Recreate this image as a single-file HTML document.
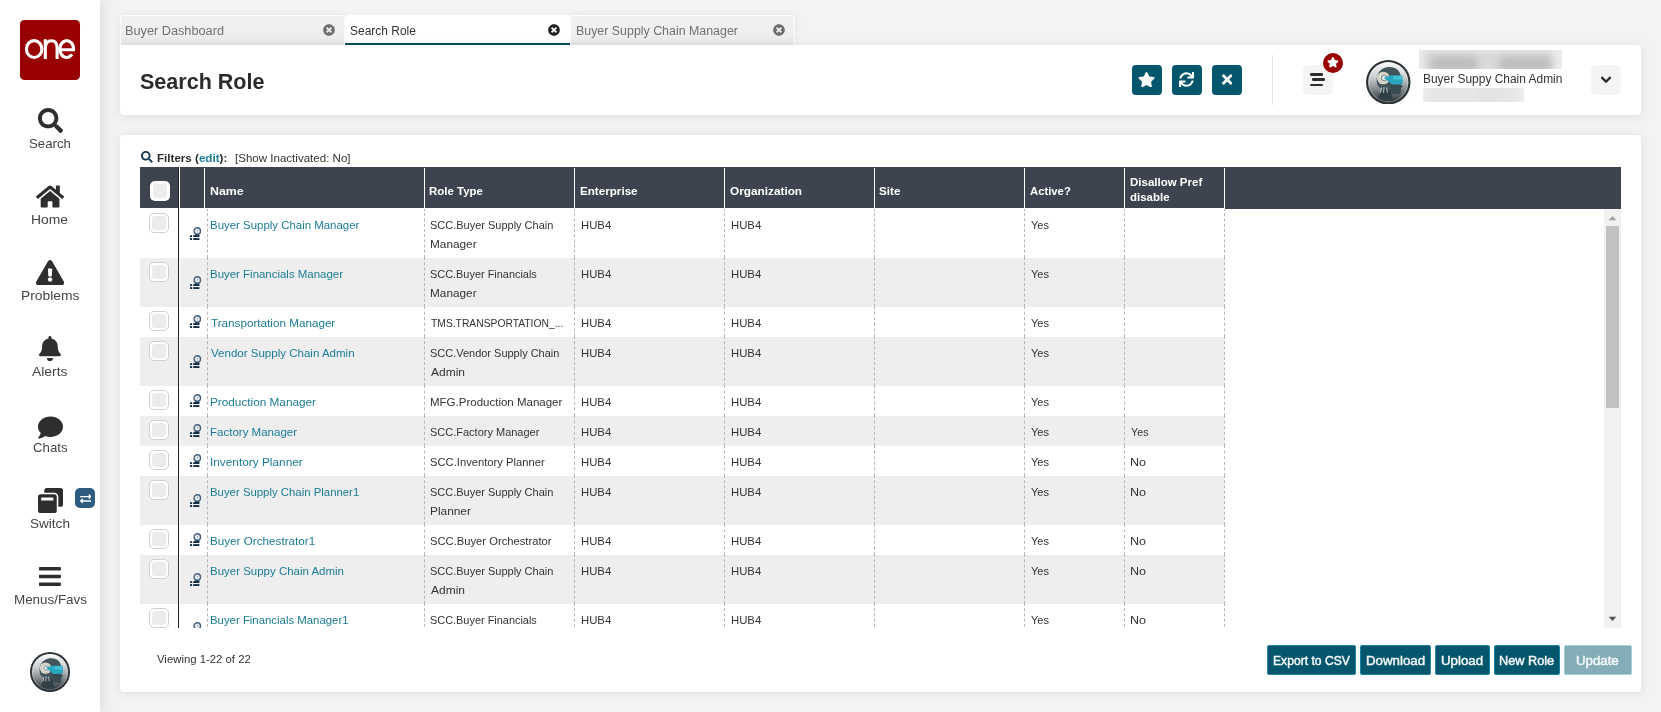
<!DOCTYPE html>
<html><head><meta charset="utf-8"><title>Search Role</title>
<style>
*{box-sizing:border-box;margin:0;padding:0}
html,body{width:1661px;height:712px;overflow:hidden}
body{background:#f4f3f3;font-family:"Liberation Sans",sans-serif;color:#333;position:relative}
.abs{position:absolute}
.t{position:absolute;white-space:nowrap;line-height:1;transform-origin:0 0}
.side{position:absolute;left:0;top:0;width:100px;height:712px;background:#fff;box-shadow:2px 0 14px rgba(120,100,100,0.20)}
.sl{font-size:13px;color:#454545}
.tab{position:absolute;top:15px;height:30px;background:linear-gradient(#f2f1f1 0%,#f0efef 60%,#e9e7e7 100%);border:1px solid #fdfdfd;border-bottom:none;border-radius:4px 4px 0 0;box-shadow:0 0 7px rgba(100,80,80,0.12)}
.tab.act{background:#fff;border:none;border-bottom:2px solid #064a5f;height:30px;box-shadow:none}
.tt{font-size:12px;color:#707070}
.card{position:absolute;background:#fff;border-radius:4px;box-shadow:0 1px 10px rgba(110,90,90,0.15)}
.ibtn{position:absolute;width:30px;height:30px;border-radius:4px;background:#03566c}
.gbtn{position:absolute;width:30px;height:30px;border-radius:5px;background:#f4f4f4}
.hd{position:absolute;top:167px;height:41px;background:#3d444f}
.ht{font-size:11px;font-weight:bold;color:#fff}
.row{position:absolute;left:140px;width:1084px}
.row.alt{background:#eeeeee}
.c{font-size:11px;color:#333}
.lk{font-size:11px;color:#1a7b96}
.dash{position:absolute;top:209px;height:419px;width:0;border-left:1px dashed #bdbdbd}
.cb{position:absolute;width:20px;height:20px;border:1px solid #cfcfcf;border-radius:5px;background:#fff}
.cb:after{content:"";position:absolute;left:2px;top:2px;right:2px;bottom:2px;border-radius:3px;background:#ececec}
.btn{position:absolute;top:645px;height:30px;border-radius:2px;background:#03566c;border:1px solid #0d6f88}
.bt{font-size:13px;font-weight:normal;color:#f5f9fa;-webkit-text-stroke:0.45px #f5f9fa}
</style></head><body>

<div class="side"></div>
<div class="abs" style="left:20px;top:20px;width:60px;height:60px;border-radius:4.500px;background:#990000"></div>
<svg class="abs" style="left:20px;top:20px" width="60" height="60" viewBox="20 20 60 60"><g fill="none" stroke="#fff" stroke-width="3.100"><ellipse cx="34.150" cy="49.050" rx="7.750" ry="8.400"/><path d="M45.300 58.900V39.300M45.300 48.500C45.300 43.200 48 40.700 51.400 40.700C55 40.700 57.100 43.200 57.100 48V58.900"/><path d="M72 54.450A6.900 8.400 0 1 1 73.580 49.700H60.400"/></g></svg>
<svg style="position:absolute;left:37.9px;top:108.2px;" width="25.000" height="25" viewBox="0 0 512 512"><path fill="#2e2e2e" d="M505 442.7L405.3 343c-4.5-4.5-10.6-7-17-7H372c27.6-35.3 44-79.7 44-128C416 93.1 322.9 0 208 0S0 93.1 0 208s93.1 208 208 208c48.3 0 92.7-16.4 128-44v16.3c0 6.4 2.5 12.5 7 17l99.7 99.7c9.4 9.4 24.600 9.400 33.900 0l28.300-28.300c9.400-9.400 9.400-24.600.1-34zM208 336c-70.700 0-128-57.200-128-128 0-70.700 57.200-128 128-128 70.700 0 128 57.200 128 128 0 70.700-57.200 128-128 128z"/></svg>
<span class="t sl" id="s0" style="left:28.52px;top:136.8px;transform:scaleX(1.0167);">Search</span>
<svg style="position:absolute;left:35.9px;top:184.2px;" width="28.125" height="25" viewBox="0 0 576 512"><path fill="#2e2e2e" d="M280.37 148.26L96 300.11V464a16 16 0 0 0 16 16l112.06-.29a16 16 0 0 0 15.920-16V368a16 16 0 0 1 16-16h64a16 16 0 0 1 16 16v95.640a16 16 0 0 0 16 16.050L464 480a16 16 0 0 0 16-16V300L295.670 148.260a12.190 12.190 0 0 0-15.300 0zM571.600 251.470L488 182.560V44.050a12 12 0 0 0-12-12h-56a12 12 0 0 0-12 12v72.610L318.470 43a48 48 0 0 0-61 0L4.340 251.470a12 12 0 0 0-1.600 16.900l25.500 31A12 12 0 0 0 45.150 301l235.220-193.740a12.190 12.190 0 0 1 15.300 0L530.900 301a12 12 0 0 0 16.900-1.600l25.500-31a12 12 0 0 0-1.700-16.930z"/></svg>
<span class="t sl" id="s1" style="left:31.29px;top:212.8px;transform:scaleX(1.0698);">Home</span>
<svg style="position:absolute;left:35.9px;top:260.2px;" width="28.125" height="25" viewBox="0 0 576 512"><path fill="#2e2e2e" d="M569.517 440.013C587.975 472.007 564.806 512 527.940 512H48.054c-36.937 0-59.999-40.055-41.577-71.987L246.423 23.985c18.467-32.009 64.720-31.951 83.154 0l239.940 416.028zM288 354c-25.405 0-46 20.595-46 46s20.595 46 46 46 46-20.595 46-46-20.595-46-46-46zm-43.673-165.346l7.418 136c.347 6.364 5.609 11.346 11.982 11.346h48.546c6.373 0 11.635-4.982 11.982-11.346l7.418-136c.375-6.874-5.098-12.654-11.982-12.654h-63.383c-6.884 0-12.356 5.780-11.981 12.654z"/></svg>
<span class="t sl" id="s2" style="left:21.28px;top:288.8px;transform:scaleX(1.0644);">Problems</span>
<svg style="position:absolute;left:39.0px;top:336.2px;" width="21.875" height="25" viewBox="0 0 448 512"><path fill="#2e2e2e" d="M224 512c35.320 0 63.970-28.650 63.970-64H160.030c0 35.350 28.650 64 63.970 64zm215.390-149.710c-19.320-20.760-55.470-51.990-55.470-154.290 0-77.700-54.480-139.900-127.940-155.160V32c0-17.670-14.320-32-31.980-32s-31.980 14.330-31.980 32v20.840C118.560 68.100 64.080 130.300 64.080 208c0 102.300-36.150 133.530-55.470 154.290-6 6.450-8.660 14.160-8.610 21.710.11 16.400 12.980 32 32.100 32h383.800c19.120 0 32-15.600 32.100-32 .05-7.550-2.610-15.270-8.610-21.710z"/></svg>
<span class="t sl" id="s3" style="left:32.26px;top:364.8px;transform:scaleX(1.0669);">Alerts</span>
<svg style="position:absolute;left:37.5px;top:414.9px;" width="25.000" height="25" viewBox="0 0 512 512"><path fill="#2e2e2e" d="M256 32C114.600 32 0 125.100 0 240c0 49.600 21.400 95 57 130.700C44.500 421.100 2.700 466 2.200 466.500c-2.200 2.300-2.800 5.700-1.500 8.700S4.800 480 8 480c66.300 0 116-31.800 140.600-51.400 32.700 12.300 69 19.400 107.400 19.400 141.400 0 256-93.100 256-208S397.400 32 256 32z"/></svg>
<span class="t sl" id="s4" style="left:32.95px;top:440.8px;transform:scaleX(1.019);">Chats</span>
<svg style="position:absolute;left:37.9px;top:488.2px;" width="25.000" height="25" viewBox="0 0 512 512"><path fill="#2e2e2e" d="M512 48v288c0 26.500-21.500 48-48 48h-48V176c0-44.100-35.900-80-80-80H128V48c0-26.500 21.500-48 48-48h288c26.500 0 48 21.500 48 48zM384 176v288c0 26.500-21.500 48-48 48H48c-26.500 0-48-21.500-48-48V176c0-26.500 21.500-48 48-48h288c26.500 0 48 21.500 48 48zm-68 28c0-6.600-5.400-12-12-12H76c-6.600 0-12 5.400-12 12v52h252v-52z"/></svg>
<span class="t sl" id="s5" style="left:30.47px;top:516.8px;transform:scaleX(1.0427);">Switch</span>
<svg style="position:absolute;left:39.0px;top:564.4px;" width="21.875" height="25" viewBox="0 0 448 512"><path fill="#2e2e2e" d="M16 132h416c8.837 0 16-7.163 16-16V76c0-8.837-7.163-16-16-16H16C7.163 60 0 67.163 0 76v40c0 8.837 7.163 16 16 16zm0 160h416c8.837 0 16-7.163 16-16v-40c0-8.837-7.163-16-16-16H16c-8.837 0-16 7.163-16 16v40c0 8.837 7.163 16 16 16zm0 160h416c8.837 0 16-7.163 16-16v-40c0-8.837-7.163-16-16-16H16c-8.837 0-16 7.163-16 16v40c0 8.837 7.163 16 16 16z"/></svg>
<span class="t sl" id="s6" style="left:14.2px;top:592.8px;transform:scaleX(1.0307);">Menus/Favs</span>
<div class="abs" style="left:75px;top:488px;width:20px;height:20px;border-radius:5px;background:#2e5c80"></div>
<svg style="position:absolute;left:79.5px;top:492.5px;" width="11.500" height="11.5" viewBox="0 0 512 512"><path fill="#fff" d="M0 168v-16c0-13.255 10.745-24 24-24h360V80c0-21.367 25.899-32.042 40.971-16.971l80 80c9.372 9.373 9.372 24.569 0 33.941l-80 80C409.956 271.982 384 261.456 384 240v-48H24c-13.255 0-24-10.745-24-24zm488 152H128v-48c0-21.314-25.862-32.080-40.971-16.971l-80 80c-9.372 9.373-9.372 24.569 0 33.941l80 80C102.057 463.997 128 453.437 128 432v-48h360c13.255 0 24-10.745 24-24v-16c0-13.255-10.745-24-24-24z"/></svg>
<svg style="position:absolute;left:30.0px;top:652.0px" width="40" height="40" viewBox="0 0 44.400 44.400">
<defs><linearGradient id="ga" x1="0" y1="0" x2="0" y2="1"><stop offset="0" stop-color="#f6f7f7"/><stop offset="0.38" stop-color="#c9cccd"/><stop offset="0.7" stop-color="#7f8689"/><stop offset="1" stop-color="#2e3538"/></linearGradient>
<linearGradient id="ra" x1="0" y1="0" x2="0" y2="1"><stop offset="0" stop-color="#ffffff"/><stop offset="0.5" stop-color="#c4c8c9"/><stop offset="1" stop-color="#5d6467"/></linearGradient>
<clipPath id="ca"><circle cx="22.200" cy="22.200" r="18.800"/></clipPath></defs>
<circle cx="22.200" cy="22.200" r="22.200" fill="#2b3235"/>
<circle cx="22.200" cy="22.200" r="20.100" fill="url(#ra)"/>
<circle cx="22.200" cy="22.200" r="18.800" fill="url(#ga)"/>
<g clip-path="url(#ca)">
<path d="M11.600 25.500 C8.800 18 11.800 9.300 20.500 7.300 C28 5.700 34 10 34.600 16 L34.600 25 L36.600 26.600 L34.800 27.800 L34.600 31 C34.400 33.400 33 34.400 31 34.200 L27.200 33.600 L26 37 L27.500 45 L10.500 45 L12.500 37 L15.800 29.500 Z" fill="#42555c"/>
<path d="M24 24.500 L34.600 24.500 L36.600 26.600 L34.800 27.800 L34.600 31 C34.400 33.400 33 34.400 31 34.200 L27.200 33.600 L24.500 29 Z" fill="#394a51"/>
<path d="M12.500 37 L15.800 29.500 L24.500 29.500 L26 37 L27.500 45 L10.500 45 Z" fill="#2f3f45"/>
<path d="M15.500 27.500 L14.500 32.500 M18 27 L17.500 33 M20.500 27.500 L21.500 32.500" stroke="#c9d3d6" stroke-width="0.900" fill="none"/>
<circle cx="17.300" cy="17.900" r="6.300" fill="#dfe5e7"/>
<circle cx="17.500" cy="17.900" r="4.900" fill="none" stroke="#c9a24a" stroke-width="0.600"/>
<circle cx="18" cy="17.900" r="2.700" fill="none" stroke="#7a8d94" stroke-width="1"/>
<path d="M17.800 17.600 L24.500 15.200 L36 15.400 C36.900 18 36.900 21.500 36 24.100 L26 24.500 Z" fill="#27a7bf"/>
<path d="M27 15.600 L35.700 15.800 C36.200 17.500 36.400 18.800 36.400 19.800 L27 19.300 Z" fill="#55cfe2" opacity="0.600"/>
</g></svg>
<div class="tab" style="left:120px;width:225px"></div>
<div class="tab" style="left:570px;width:225px"></div>
<div class="tab act" style="left:345px;width:225px"></div>
<span class="t tt" id="tab0" style="left:125.38px;top:24.5px;transform:scaleX(1.0596);">Buyer Dashboard</span>
<span class="t tt" id="tab1" style="left:350.45px;top:24.5px;transform:scaleX(0.9981);color:#333">Search Role</span>
<span class="t tt" id="tab2" style="left:575.6px;top:24.5px;transform:scaleX(1.033);">Buyer Supply Chain Manager</span>
<svg style="position:absolute;left:323px;top:24px;" width="12.000" height="12" viewBox="0 0 512 512"><path fill="#6e6e6e" d="M256 8C119 8 8 119 8 256s111 248 248 248 248-111 248-248S393 8 256 8zm121.600 313.100c4.700 4.700 4.700 12.300 0 17L338 377.600c-4.700 4.700-12.300 4.700-17 0L256 312l-65.100 65.600c-4.700 4.700-12.300 4.700-17 0L134.400 338c-4.700-4.700-4.700-12.300 0-17l65.600-65-65.600-65.100c-4.700-4.700-4.700-12.300 0-17l39.600-39.600c4.700-4.700 12.300-4.700 17 0l65 65.700 65.100-65.600c4.700-4.700 12.300-4.700 17 0l39.600 39.600c4.700 4.700 4.700 12.300 0 17L312 256l65.600 65.100z"/></svg>
<svg style="position:absolute;left:548px;top:24px;" width="12.000" height="12" viewBox="0 0 512 512"><path fill="#222" d="M256 8C119 8 8 119 8 256s111 248 248 248 248-111 248-248S393 8 256 8zm121.600 313.100c4.700 4.700 4.700 12.300 0 17L338 377.600c-4.700 4.700-12.300 4.700-17 0L256 312l-65.100 65.600c-4.700 4.700-12.300 4.700-17 0L134.400 338c-4.700-4.700-4.700-12.300 0-17l65.600-65-65.600-65.100c-4.700-4.700-4.700-12.300 0-17l39.600-39.600c4.700-4.700 12.300-4.700 17 0l65 65.700 65.100-65.600c4.700-4.700 12.300-4.700 17 0l39.600 39.600c4.700 4.700 4.700 12.300 0 17L312 256l65.600 65.100z"/></svg>
<svg style="position:absolute;left:773px;top:24px;" width="12.000" height="12" viewBox="0 0 512 512"><path fill="#6e6e6e" d="M256 8C119 8 8 119 8 256s111 248 248 248 248-111 248-248S393 8 256 8zm121.600 313.100c4.700 4.700 4.700 12.300 0 17L338 377.600c-4.700 4.700-12.300 4.700-17 0L256 312l-65.100 65.600c-4.700 4.700-12.300 4.700-17 0L134.400 338c-4.700-4.700-4.700-12.300 0-17l65.600-65-65.600-65.100c-4.700-4.700-4.700-12.300 0-17l39.600-39.600c4.700-4.700 12.300-4.700 17 0l65 65.700 65.100-65.600c4.700-4.700 12.300-4.700 17 0l39.600 39.600c4.700 4.700 4.700 12.300 0 17L312 256l65.600 65.100z"/></svg>
<div class="card" style="left:120px;top:45px;width:1521px;height:70px;border-radius:0 4px 4px 4px"></div>
<span class="t " id="title" style="left:139.64px;top:70.8px;transform:scaleX(0.9786);font-size:22px;font-weight:bold;color:#2b2b2b">Search Role</span>
<div class="ibtn" style="left:1132px;top:65px"></div>
<svg style="position:absolute;left:1137.75px;top:72.0px;" width="17.100" height="15.2" viewBox="0 0 576 512"><path fill="#fff" d="M259.300 17.800L194 150.200 47.900 171.500c-26.200 3.800-36.700 36.100-17.700 54.600l105.700 103-25 145.500c-4.500 26.300 23.200 46 46.400 33.700L288 439.600l130.700 68.700c23.200 12.200 50.900-7.400 46.400-33.700l-25-145.500 105.700-103c19-18.500 8.500-50.800-17.700-54.600L382 150.200 316.700 17.800c-11.700-23.600-45.600-23.900-57.400 0z"/></svg>
<div class="ibtn" style="left:1172px;top:65px"></div>
<svg style="position:absolute;left:1179.0px;top:72.0px;" width="15.000" height="15.0" viewBox="0 0 512 512"><path fill="#fff" d="M440.650 12.570l4 82.770A247.160 247.160 0 0 0 255.830 8C134.730 8 33.910 94.920 12.290 209.820A12 12 0 0 0 24.090 224h49.050a12 12 0 0 0 11.670-9.260 175.910 175.910 0 0 1 317-56.940l-101.460-4.860a12 12 0 0 0-12.570 12v47.410a12 12 0 0 0 12 12H500a12 12 0 0 0 12-12V12a12 12 0 0 0-12-12h-47.370a12 12 0 0 0-11.980 12.570zM255.830 432a175.610 175.610 0 0 1-146-77.800l101.800 4.870a12 12 0 0 0 12.570-12v-47.400a12 12 0 0 0-12-12H12a12 12 0 0 0-12 12V500a12 12 0 0 0 12 12h47.350a12 12 0 0 0 12-12.600l-4.150-82.570A247.170 247.170 0 0 0 255.830 504c121.110 0 221.930-86.920 243.550-201.820a12 12 0 0 0-11.800-14.180h-49.050a12 12 0 0 0-11.670 9.260A175.860 175.860 0 0 1 255.830 432z"/></svg>
<div class="ibtn" style="left:1212px;top:65px"></div>
<svg style="position:absolute;left:1221.84px;top:71.9px;" width="10.312" height="15.0" viewBox="0 0 352 512"><path fill="#fff" d="M242.720 256l100.070-100.070c12.280-12.280 12.280-32.190 0-44.480l-22.240-22.240c-12.280-12.280-32.190-12.280-44.480 0L176 189.280 75.930 89.210c-12.280-12.280-32.190-12.280-44.480 0L9.210 111.450c-12.280 12.280-12.280 32.190 0 44.480L109.280 256 9.210 356.070c-12.280 12.280-12.280 32.190 0 44.480l22.240 22.240c12.280 12.280 32.200 12.280 44.480 0L176 322.720l100.070 100.070c12.280 12.280 32.200 12.280 44.480 0l22.240-22.240c12.280-12.280 12.280-32.190 0-44.480L242.720 256z"/></svg>
<div class="abs" style="left:1272px;top:55px;width:1px;height:50px;background:#e4e4e4"></div>
<div class="gbtn" style="left:1303px;top:65px"></div>
<div class="abs" style="left:1310px;top:73.3px;width:13px;height:2.300px;border-radius:1.200px;background:#2d2d2d"></div>
<div class="abs" style="left:1312.3px;top:78.4px;width:13px;height:2.300px;border-radius:1.200px;background:#2d2d2d"></div>
<div class="abs" style="left:1310px;top:83.5px;width:13px;height:2.300px;border-radius:1.200px;background:#2d2d2d"></div>
<div class="abs" style="left:1323px;top:53px;width:20px;height:20px;border-radius:10px;background:#990000"></div>
<svg style="position:absolute;left:1327.2px;top:57.3px;" width="11.812" height="10.5" viewBox="0 0 576 512"><path fill="#fff" d="M259.300 17.800L194 150.200 47.900 171.500c-26.200 3.800-36.700 36.100-17.700 54.600l105.700 103-25 145.500c-4.500 26.300 23.200 46 46.400 33.700L288 439.600l130.700 68.700c23.200 12.200 50.900-7.400 46.400-33.700l-25-145.500 105.700-103c19-18.500 8.500-50.800-17.700-54.600L382 150.200 316.700 17.800c-11.700-23.600-45.600-23.900-57.400 0z"/></svg>
<div class="abs" style="left:1364px;top:58px;width:48px;height:48px;border-radius:24px;background:#fff;box-shadow:0 0 2px rgba(0,0,0,0.05)"></div>
<svg style="position:absolute;left:1366.05px;top:59.75px" width="44.5" height="44.5" viewBox="0 0 44.400 44.400">
<defs><linearGradient id="gb" x1="0" y1="0" x2="0" y2="1"><stop offset="0" stop-color="#f6f7f7"/><stop offset="0.38" stop-color="#c9cccd"/><stop offset="0.7" stop-color="#7f8689"/><stop offset="1" stop-color="#2e3538"/></linearGradient>
<linearGradient id="rb" x1="0" y1="0" x2="0" y2="1"><stop offset="0" stop-color="#ffffff"/><stop offset="0.5" stop-color="#c4c8c9"/><stop offset="1" stop-color="#5d6467"/></linearGradient>
<clipPath id="cb"><circle cx="22.200" cy="22.200" r="18.800"/></clipPath></defs>
<circle cx="22.200" cy="22.200" r="22.200" fill="#2b3235"/>
<circle cx="22.200" cy="22.200" r="20.100" fill="url(#rb)"/>
<circle cx="22.200" cy="22.200" r="18.800" fill="url(#gb)"/>
<g clip-path="url(#cb)">
<path d="M11.600 25.500 C8.800 18 11.800 9.300 20.500 7.300 C28 5.700 34 10 34.600 16 L34.600 25 L36.600 26.600 L34.800 27.800 L34.600 31 C34.400 33.400 33 34.400 31 34.200 L27.200 33.600 L26 37 L27.500 45 L10.500 45 L12.500 37 L15.800 29.500 Z" fill="#42555c"/>
<path d="M24 24.500 L34.600 24.500 L36.600 26.600 L34.800 27.800 L34.600 31 C34.400 33.400 33 34.400 31 34.200 L27.200 33.600 L24.500 29 Z" fill="#394a51"/>
<path d="M12.500 37 L15.800 29.500 L24.500 29.500 L26 37 L27.500 45 L10.500 45 Z" fill="#2f3f45"/>
<path d="M15.500 27.500 L14.500 32.500 M18 27 L17.500 33 M20.500 27.500 L21.500 32.500" stroke="#c9d3d6" stroke-width="0.900" fill="none"/>
<circle cx="17.300" cy="17.900" r="6.300" fill="#dfe5e7"/>
<circle cx="17.500" cy="17.900" r="4.900" fill="none" stroke="#c9a24a" stroke-width="0.600"/>
<circle cx="18" cy="17.900" r="2.700" fill="none" stroke="#7a8d94" stroke-width="1"/>
<path d="M17.800 17.600 L24.500 15.200 L36 15.400 C36.900 18 36.900 21.500 36 24.100 L26 24.500 Z" fill="#27a7bf"/>
<path d="M27 15.600 L35.700 15.800 C36.200 17.500 36.400 18.800 36.400 19.800 L27 19.300 Z" fill="#55cfe2" opacity="0.600"/>
</g></svg>
<div class="abs" style="left:1419px;top:50px;width:143px;height:19px;background:#ebebeb;overflow:hidden"><div class="abs" style="left:5px;top:1px;width:128px;height:20px;background:#dadada;filter:blur(3px)"></div><div class="abs" style="left:12px;top:7px;width:46px;height:14px;background:#b9b9b9;filter:blur(4px)"></div><div class="abs" style="left:80px;top:7px;width:52px;height:14px;background:#bbbbbb;filter:blur(4px)"></div></div>
<span class="t " id="user" style="left:1422.8px;top:72.5px;transform:scaleX(0.9951);font-size:12px;color:#333">Buyer Suppy Chain Admin</span>
<div class="abs" style="left:1423px;top:88px;width:101px;height:14px;background:linear-gradient(90deg,#ececec,#e5e5e5 12%,#e7e7e7 45%,#e3e3e3 60%,#e6e6e6 88%,#eeeeee)"></div>
<div class="gbtn" style="left:1591px;top:65px"></div>
<svg style="position:absolute;left:1600.7px;top:73.8px;" width="10.062" height="11.5" viewBox="0 0 448 512"><path stroke="#222" stroke-width="28" fill="#222" d="M207.029 381.476L12.686 187.132c-9.373-9.373-9.373-24.569 0-33.941l22.667-22.667c9.357-9.357 24.522-9.375 33.901-.04L224 284.505l154.745-154.021c9.379-9.335 24.544-9.317 33.901.04l22.667 22.667c9.373 9.373 9.373 24.569 0 33.941L240.971 381.476c-9.373 9.372-24.569 9.372-33.942 0z"/></svg>
<div class="card" style="left:120px;top:135px;width:1521px;height:557px"></div>
<svg style="position:absolute;left:141.3px;top:151.1px;" width="11.800" height="11.8" viewBox="0 0 512 512"><path fill="#1b3a50" d="M505 442.7L405.3 343c-4.5-4.5-10.6-7-17-7H372c27.6-35.3 44-79.7 44-128C416 93.1 322.9 0 208 0S0 93.1 0 208s93.1 208 208 208c48.3 0 92.7-16.4 128-44v16.3c0 6.4 2.5 12.5 7 17l99.7 99.7c9.4 9.4 24.600 9.400 33.900 0l28.300-28.300c9.400-9.400 9.400-24.600.1-34zM208 336c-70.700 0-128-57.200-128-128 0-70.700 57.200-128 128-128 70.700 0 128 57.200 128 128 0 70.700-57.200 128-128 128z"/></svg>
<span class="t " id="f1" style="left:157.41px;top:152.6px;transform:scaleX(1.0543);font-size:11px;font-weight:bold;color:#2b2b2b">Filters (<b style="color:#1a7b96">edit</b>):</span>
<span class="t " id="f4" style="left:234.69px;top:152.6px;transform:scaleX(1.0495);font-size:11px;color:#333">[Show Inactivated: No]</span>
<div class="hd" style="left:140px;width:38px"></div>
<div class="abs" style="left:178px;top:167px;width:1px;height:461px;background:#1f1f1f"></div>
<div class="hd" style="left:180px;width:1044px"></div>
<div class="hd" style="left:1224px;width:397px;height:42px"></div>
<div class="abs" style="left:204px;top:168px;width:1px;height:40px;background:#fff"></div>
<div class="abs" style="left:424px;top:168px;width:1px;height:40px;background:#fff"></div>
<div class="abs" style="left:574px;top:168px;width:1px;height:40px;background:#fff"></div>
<div class="abs" style="left:724px;top:168px;width:1px;height:40px;background:#fff"></div>
<div class="abs" style="left:874px;top:168px;width:1px;height:40px;background:#fff"></div>
<div class="abs" style="left:1024px;top:168px;width:1px;height:40px;background:#fff"></div>
<div class="abs" style="left:1124px;top:168px;width:1px;height:40px;background:#fff"></div>
<div class="abs" style="left:1224px;top:168px;width:1px;height:41px;background:#fff"></div>
<div class="abs" style="left:150px;top:181px;width:20px;height:20px;border-radius:5px;background:#fff"></div><div class="abs" style="left:153px;top:184px;width:14px;height:14px;border-radius:3px;background:#ededed"></div>
<span class="t ht" id="h0" style="left:209.73px;top:185.8px;transform:scaleX(1.125);">Name</span>
<span class="t ht" id="h1" style="left:428.72px;top:185.8px;transform:scaleX(1.0416);">Role Type</span>
<span class="t ht" id="h2" style="left:580.33px;top:185.8px;transform:scaleX(1.0582);">Enterprise</span>
<span class="t ht" id="h3" style="left:729.62px;top:185.8px;transform:scaleX(1.0719);">Organization</span>
<span class="t ht" id="h4" style="left:879.45px;top:185.8px;transform:scaleX(1.0617);">Site</span>
<span class="t ht" id="h5" style="left:1029.69px;top:185.8px;transform:scaleX(1.0269);">Active?</span>
<span class="t ht" id="h6a" style="left:1129.8px;top:176.5px;transform:scaleX(1.0455);">Disallow Pref</span>
<span class="t ht" id="h6b" style="left:1130.43px;top:191.5px;transform:scaleX(1.0422);">disable</span>
<div class="abs" style="left:0;top:209px;width:1661px;height:419px;overflow:hidden">
<div class="row alt" style="top:49px;height:49px"></div>
<div class="row alt" style="top:128px;height:49px"></div>
<div class="row alt" style="top:207px;height:30px"></div>
<div class="row alt" style="top:267px;height:49px"></div>
<div class="row alt" style="top:346px;height:49px"></div>
</div>
<svg class="abs" style="left:0;top:209px" width="1661" height="418.500" viewBox="0 0 1661 418.500"><g fill="none" stroke="#b6b6b6" stroke-width="1">
<path stroke-dasharray="3 2.222" stroke-dashoffset="1" d="M207.5 0V49M424.5 0V49M574.5 0V49M724.5 0V49M874.5 0V49M1024.5 0V49M1124.5 0V49M1224.5 0V49"/>
<path stroke-dasharray="3 2.222" stroke-dashoffset="1" d="M207.5 49V98M424.5 49V98M574.5 49V98M724.5 49V98M874.5 49V98M1024.5 49V98M1124.5 49V98M1224.5 49V98"/>
<path stroke-dasharray="3 2.6" stroke-dashoffset="1" d="M207.5 98V128M424.5 98V128M574.5 98V128M724.5 98V128M874.5 98V128M1024.5 98V128M1124.5 98V128M1224.5 98V128"/>
<path stroke-dasharray="3 2.222" stroke-dashoffset="1" d="M207.5 128V177M424.5 128V177M574.5 128V177M724.5 128V177M874.5 128V177M1024.5 128V177M1124.5 128V177M1224.5 128V177"/>
<path stroke-dasharray="3 2.6" stroke-dashoffset="1" d="M207.5 177V207M424.5 177V207M574.5 177V207M724.5 177V207M874.5 177V207M1024.5 177V207M1124.5 177V207M1224.5 177V207"/>
<path stroke-dasharray="3 2.6" stroke-dashoffset="1" d="M207.5 207V237M424.5 207V237M574.5 207V237M724.5 207V237M874.5 207V237M1024.5 207V237M1124.5 207V237M1224.5 207V237"/>
<path stroke-dasharray="3 2.6" stroke-dashoffset="1" d="M207.5 237V267M424.5 237V267M574.5 237V267M724.5 237V267M874.5 237V267M1024.5 237V267M1124.5 237V267M1224.5 237V267"/>
<path stroke-dasharray="3 2.222" stroke-dashoffset="1" d="M207.5 267V316M424.5 267V316M574.5 267V316M724.5 267V316M874.5 267V316M1024.5 267V316M1124.5 267V316M1224.5 267V316"/>
<path stroke-dasharray="3 2.6" stroke-dashoffset="1" d="M207.5 316V346M424.5 316V346M574.5 316V346M724.5 316V346M874.5 316V346M1024.5 316V346M1124.5 316V346M1224.5 316V346"/>
<path stroke-dasharray="3 2.222" stroke-dashoffset="1" d="M207.5 346V395M424.5 346V395M574.5 346V395M724.5 346V395M874.5 346V395M1024.5 346V395M1124.5 346V395M1224.5 346V395"/>
<path stroke-dasharray="3 2.222" stroke-dashoffset="1" d="M207.5 395V444M424.5 395V444M574.5 395V444M724.5 395V444M874.5 395V444M1024.5 395V444M1124.5 395V444M1224.5 395V444"/>
</g></svg>
<div class="abs" style="left:0;top:209px;width:1661px;height:419px;overflow:hidden">
<div class="cb" style="left:149px;top:4px"></div>
<svg style="position:absolute;left:189.9px;top:17.8px" width="12" height="14" viewBox="0 0 12 14">
<path d="M4.300 9 C4.800 7.200 6 6.500 7.300 6.500 C8.600 6.500 9.400 7.200 9.400 9 Z" fill="#14304a"/>
<circle cx="7.300" cy="3.900" r="3.200" fill="#e6ebf0" stroke="#45607a" stroke-width="1.400"/>
<path d="M7.100 4.300 L8 2.800" stroke="#5d7488" stroke-width="0.700" fill="none"/>
<rect x="0" y="8.200" width="2.100" height="1.800" fill="#14304a"/><rect x="3.200" y="8.200" width="6.200" height="1.800" fill="#14304a"/>
<rect x="0" y="11.100" width="2.100" height="1.900" fill="#14304a"/><rect x="3.200" y="11.100" width="6.200" height="1.900" fill="#14304a"/>
</svg>
<span class="t lk" id="n0" style="left:210.28px;top:10.5px;transform:scaleX(1.0395);">Buyer Supply Chain Manager</span>
<span class="t c" id="r0_0" style="left:430.34px;top:10.5px;transform:scaleX(0.9985);">SCC.Buyer Supply Chain</span>
<span class="t c" id="r0_1" style="left:429.61px;top:29.5px;transform:scaleX(1.0725);">Manager</span>
<span class="t c" id="e0" style="left:581.32px;top:10.5px;transform:scaleX(1.0294);">HUB4</span>
<span class="t c" id="o0" style="left:731.32px;top:10.5px;transform:scaleX(1.0294);">HUB4</span>
<span class="t c" id="a0" style="left:1031.43px;top:10.5px;transform:scaleX(1.0072);">Yes</span>
<div class="cb" style="left:149px;top:53px"></div>
<svg style="position:absolute;left:189.9px;top:66.8px" width="12" height="14" viewBox="0 0 12 14">
<path d="M4.300 9 C4.800 7.200 6 6.500 7.300 6.500 C8.600 6.500 9.400 7.200 9.400 9 Z" fill="#14304a"/>
<circle cx="7.300" cy="3.900" r="3.200" fill="#e6ebf0" stroke="#45607a" stroke-width="1.400"/>
<path d="M7.100 4.300 L8 2.800" stroke="#5d7488" stroke-width="0.700" fill="none"/>
<rect x="0" y="8.200" width="2.100" height="1.800" fill="#14304a"/><rect x="3.200" y="8.200" width="6.200" height="1.800" fill="#14304a"/>
<rect x="0" y="11.100" width="2.100" height="1.900" fill="#14304a"/><rect x="3.200" y="11.100" width="6.200" height="1.900" fill="#14304a"/>
</svg>
<span class="t lk" id="n1" style="left:210.16px;top:59.5px;transform:scaleX(1.0409);">Buyer Financials Manager</span>
<span class="t c" id="r1_0" style="left:430.34px;top:59.5px;transform:scaleX(0.9926);">SCC.Buyer Financials</span>
<span class="t c" id="r1_1" style="left:429.61px;top:78.5px;transform:scaleX(1.0725);">Manager</span>
<span class="t c" id="e1" style="left:581.32px;top:59.5px;transform:scaleX(1.0294);">HUB4</span>
<span class="t c" id="o1" style="left:731.32px;top:59.5px;transform:scaleX(1.0294);">HUB4</span>
<span class="t c" id="a1" style="left:1031.43px;top:59.5px;transform:scaleX(1.0072);">Yes</span>
<div class="cb" style="left:149px;top:102px"></div>
<svg style="position:absolute;left:189.9px;top:105.6px" width="12" height="14" viewBox="0 0 12 14">
<path d="M4.300 9 C4.800 7.200 6 6.500 7.300 6.500 C8.600 6.500 9.400 7.200 9.400 9 Z" fill="#14304a"/>
<circle cx="7.300" cy="3.900" r="3.200" fill="#e6ebf0" stroke="#45607a" stroke-width="1.400"/>
<path d="M7.100 4.300 L8 2.800" stroke="#5d7488" stroke-width="0.700" fill="none"/>
<rect x="0" y="8.200" width="2.100" height="1.800" fill="#14304a"/><rect x="3.200" y="8.200" width="6.200" height="1.800" fill="#14304a"/>
<rect x="0" y="11.100" width="2.100" height="1.900" fill="#14304a"/><rect x="3.200" y="11.100" width="6.200" height="1.900" fill="#14304a"/>
</svg>
<span class="t lk" id="n2" style="left:210.73px;top:108.5px;transform:scaleX(1.0622);">Transportation Manager</span>
<span class="t c" id="r2_0" style="left:431.43px;top:108.5px;transform:scaleX(0.9368);">TMS.TRANSPORTATION_...</span>
<span class="t c" id="e2" style="left:581.32px;top:108.5px;transform:scaleX(1.0294);">HUB4</span>
<span class="t c" id="o2" style="left:731.32px;top:108.5px;transform:scaleX(1.0294);">HUB4</span>
<span class="t c" id="a2" style="left:1031.43px;top:108.5px;transform:scaleX(1.0072);">Yes</span>
<div class="cb" style="left:149px;top:132px"></div>
<svg style="position:absolute;left:189.9px;top:145.8px" width="12" height="14" viewBox="0 0 12 14">
<path d="M4.300 9 C4.800 7.200 6 6.500 7.300 6.500 C8.600 6.500 9.400 7.200 9.400 9 Z" fill="#14304a"/>
<circle cx="7.300" cy="3.900" r="3.200" fill="#e6ebf0" stroke="#45607a" stroke-width="1.400"/>
<path d="M7.100 4.300 L8 2.800" stroke="#5d7488" stroke-width="0.700" fill="none"/>
<rect x="0" y="8.200" width="2.100" height="1.800" fill="#14304a"/><rect x="3.200" y="8.200" width="6.200" height="1.800" fill="#14304a"/>
<rect x="0" y="11.100" width="2.100" height="1.900" fill="#14304a"/><rect x="3.200" y="11.100" width="6.200" height="1.900" fill="#14304a"/>
</svg>
<span class="t lk" id="n3" style="left:210.68px;top:138.5px;transform:scaleX(1.0482);">Vendor Supply Chain Admin</span>
<span class="t c" id="r3_0" style="left:430.34px;top:138.5px;transform:scaleX(0.9978);">SCC.Vendor Supply Chain</span>
<span class="t c" id="r3_1" style="left:430.72px;top:157.5px;transform:scaleX(1.0911);">Admin</span>
<span class="t c" id="e3" style="left:581.32px;top:138.5px;transform:scaleX(1.0294);">HUB4</span>
<span class="t c" id="o3" style="left:731.32px;top:138.5px;transform:scaleX(1.0294);">HUB4</span>
<span class="t c" id="a3" style="left:1031.43px;top:138.5px;transform:scaleX(1.0072);">Yes</span>
<div class="cb" style="left:149px;top:181px"></div>
<svg style="position:absolute;left:189.9px;top:184.6px" width="12" height="14" viewBox="0 0 12 14">
<path d="M4.300 9 C4.800 7.200 6 6.500 7.300 6.500 C8.600 6.500 9.400 7.200 9.400 9 Z" fill="#14304a"/>
<circle cx="7.300" cy="3.900" r="3.200" fill="#e6ebf0" stroke="#45607a" stroke-width="1.400"/>
<path d="M7.100 4.300 L8 2.800" stroke="#5d7488" stroke-width="0.700" fill="none"/>
<rect x="0" y="8.200" width="2.100" height="1.800" fill="#14304a"/><rect x="3.200" y="8.200" width="6.200" height="1.800" fill="#14304a"/>
<rect x="0" y="11.100" width="2.100" height="1.900" fill="#14304a"/><rect x="3.200" y="11.100" width="6.200" height="1.900" fill="#14304a"/>
</svg>
<span class="t lk" id="n4" style="left:210.16px;top:187.5px;transform:scaleX(1.07);">Production Manager</span>
<span class="t c" id="r4_0" style="left:429.61px;top:187.5px;transform:scaleX(1.0458);">MFG.Production Manager</span>
<span class="t c" id="e4" style="left:581.32px;top:187.5px;transform:scaleX(1.0294);">HUB4</span>
<span class="t c" id="o4" style="left:731.32px;top:187.5px;transform:scaleX(1.0294);">HUB4</span>
<span class="t c" id="a4" style="left:1031.43px;top:187.5px;transform:scaleX(1.0072);">Yes</span>
<div class="cb" style="left:149px;top:211px"></div>
<svg style="position:absolute;left:189.9px;top:214.6px" width="12" height="14" viewBox="0 0 12 14">
<path d="M4.300 9 C4.800 7.200 6 6.500 7.300 6.500 C8.600 6.500 9.400 7.200 9.400 9 Z" fill="#14304a"/>
<circle cx="7.300" cy="3.900" r="3.200" fill="#e6ebf0" stroke="#45607a" stroke-width="1.400"/>
<path d="M7.100 4.300 L8 2.800" stroke="#5d7488" stroke-width="0.700" fill="none"/>
<rect x="0" y="8.200" width="2.100" height="1.800" fill="#14304a"/><rect x="3.200" y="8.200" width="6.200" height="1.800" fill="#14304a"/>
<rect x="0" y="11.100" width="2.100" height="1.900" fill="#14304a"/><rect x="3.200" y="11.100" width="6.200" height="1.900" fill="#14304a"/>
</svg>
<span class="t lk" id="n5" style="left:210.16px;top:217.5px;transform:scaleX(1.0467);">Factory Manager</span>
<span class="t c" id="r5_0" style="left:430.34px;top:217.5px;transform:scaleX(0.9995);">SCC.Factory Manager</span>
<span class="t c" id="e5" style="left:581.32px;top:217.5px;transform:scaleX(1.0294);">HUB4</span>
<span class="t c" id="o5" style="left:731.32px;top:217.5px;transform:scaleX(1.0294);">HUB4</span>
<span class="t c" id="a5" style="left:1031.43px;top:217.5px;transform:scaleX(1.0072);">Yes</span>
<span class="t c" id="d5" style="left:1130.93px;top:217.5px;transform:scaleX(0.9749);">Yes</span>
<div class="cb" style="left:149px;top:241px"></div>
<svg style="position:absolute;left:189.9px;top:244.6px" width="12" height="14" viewBox="0 0 12 14">
<path d="M4.300 9 C4.800 7.200 6 6.500 7.300 6.500 C8.600 6.500 9.400 7.200 9.400 9 Z" fill="#14304a"/>
<circle cx="7.300" cy="3.900" r="3.200" fill="#e6ebf0" stroke="#45607a" stroke-width="1.400"/>
<path d="M7.100 4.300 L8 2.800" stroke="#5d7488" stroke-width="0.700" fill="none"/>
<rect x="0" y="8.200" width="2.100" height="1.800" fill="#14304a"/><rect x="3.200" y="8.200" width="6.200" height="1.800" fill="#14304a"/>
<rect x="0" y="11.100" width="2.100" height="1.900" fill="#14304a"/><rect x="3.200" y="11.100" width="6.200" height="1.900" fill="#14304a"/>
</svg>
<span class="t lk" id="n6" style="left:209.92px;top:247.5px;transform:scaleX(1.0755);">Inventory Planner</span>
<span class="t c" id="r6_0" style="left:430.34px;top:247.5px;transform:scaleX(1.0191);">SCC.Inventory Planner</span>
<span class="t c" id="e6" style="left:581.32px;top:247.5px;transform:scaleX(1.0294);">HUB4</span>
<span class="t c" id="o6" style="left:731.32px;top:247.5px;transform:scaleX(1.0294);">HUB4</span>
<span class="t c" id="a6" style="left:1031.43px;top:247.5px;transform:scaleX(1.0072);">Yes</span>
<span class="t c" id="d6" style="left:1130.05px;top:247.5px;transform:scaleX(1.1405);">No</span>
<div class="cb" style="left:149px;top:271px"></div>
<svg style="position:absolute;left:189.9px;top:284.8px" width="12" height="14" viewBox="0 0 12 14">
<path d="M4.300 9 C4.800 7.200 6 6.500 7.300 6.500 C8.600 6.500 9.400 7.200 9.400 9 Z" fill="#14304a"/>
<circle cx="7.300" cy="3.900" r="3.200" fill="#e6ebf0" stroke="#45607a" stroke-width="1.400"/>
<path d="M7.100 4.300 L8 2.800" stroke="#5d7488" stroke-width="0.700" fill="none"/>
<rect x="0" y="8.200" width="2.100" height="1.800" fill="#14304a"/><rect x="3.200" y="8.200" width="6.200" height="1.800" fill="#14304a"/>
<rect x="0" y="11.100" width="2.100" height="1.900" fill="#14304a"/><rect x="3.200" y="11.100" width="6.200" height="1.900" fill="#14304a"/>
</svg>
<span class="t lk" id="n7" style="left:210.36px;top:277.5px;transform:scaleX(1.0341);">Buyer Supply Chain Planner1</span>
<span class="t c" id="r7_0" style="left:430.34px;top:277.5px;transform:scaleX(0.9985);">SCC.Buyer Supply Chain</span>
<span class="t c" id="r7_1" style="left:429.61px;top:296.5px;transform:scaleX(1.079);">Planner</span>
<span class="t c" id="e7" style="left:581.32px;top:277.5px;transform:scaleX(1.0294);">HUB4</span>
<span class="t c" id="o7" style="left:731.32px;top:277.5px;transform:scaleX(1.0294);">HUB4</span>
<span class="t c" id="a7" style="left:1031.43px;top:277.5px;transform:scaleX(1.0072);">Yes</span>
<span class="t c" id="d7" style="left:1130.05px;top:277.5px;transform:scaleX(1.1405);">No</span>
<div class="cb" style="left:149px;top:320px"></div>
<svg style="position:absolute;left:189.9px;top:323.6px" width="12" height="14" viewBox="0 0 12 14">
<path d="M4.300 9 C4.800 7.200 6 6.500 7.300 6.500 C8.600 6.500 9.400 7.200 9.400 9 Z" fill="#14304a"/>
<circle cx="7.300" cy="3.900" r="3.200" fill="#e6ebf0" stroke="#45607a" stroke-width="1.400"/>
<path d="M7.100 4.300 L8 2.800" stroke="#5d7488" stroke-width="0.700" fill="none"/>
<rect x="0" y="8.200" width="2.100" height="1.800" fill="#14304a"/><rect x="3.200" y="8.200" width="6.200" height="1.800" fill="#14304a"/>
<rect x="0" y="11.100" width="2.100" height="1.900" fill="#14304a"/><rect x="3.200" y="11.100" width="6.200" height="1.900" fill="#14304a"/>
</svg>
<span class="t lk" id="n8" style="left:210.16px;top:326.5px;transform:scaleX(1.0617);">Buyer Orchestrator1</span>
<span class="t c" id="r8_0" style="left:430.34px;top:326.5px;transform:scaleX(1.0193);">SCC.Buyer Orchestrator</span>
<span class="t c" id="e8" style="left:581.32px;top:326.5px;transform:scaleX(1.0294);">HUB4</span>
<span class="t c" id="o8" style="left:731.32px;top:326.5px;transform:scaleX(1.0294);">HUB4</span>
<span class="t c" id="a8" style="left:1031.43px;top:326.5px;transform:scaleX(1.0072);">Yes</span>
<span class="t c" id="d8" style="left:1130.05px;top:326.5px;transform:scaleX(1.1405);">No</span>
<div class="cb" style="left:149px;top:350px"></div>
<svg style="position:absolute;left:189.9px;top:363.8px" width="12" height="14" viewBox="0 0 12 14">
<path d="M4.300 9 C4.800 7.200 6 6.500 7.300 6.500 C8.600 6.500 9.400 7.200 9.400 9 Z" fill="#14304a"/>
<circle cx="7.300" cy="3.900" r="3.200" fill="#e6ebf0" stroke="#45607a" stroke-width="1.400"/>
<path d="M7.100 4.300 L8 2.800" stroke="#5d7488" stroke-width="0.700" fill="none"/>
<rect x="0" y="8.200" width="2.100" height="1.800" fill="#14304a"/><rect x="3.200" y="8.200" width="6.200" height="1.800" fill="#14304a"/>
<rect x="0" y="11.100" width="2.100" height="1.900" fill="#14304a"/><rect x="3.200" y="11.100" width="6.200" height="1.900" fill="#14304a"/>
</svg>
<span class="t lk" id="n9" style="left:210.16px;top:356.5px;transform:scaleX(1.0434);">Buyer Suppy Chain Admin</span>
<span class="t c" id="r9_0" style="left:430.34px;top:356.5px;transform:scaleX(0.9985);">SCC.Buyer Supply Chain</span>
<span class="t c" id="r9_1" style="left:430.72px;top:375.5px;transform:scaleX(1.0911);">Admin</span>
<span class="t c" id="e9" style="left:581.32px;top:356.5px;transform:scaleX(1.0294);">HUB4</span>
<span class="t c" id="o9" style="left:731.32px;top:356.5px;transform:scaleX(1.0294);">HUB4</span>
<span class="t c" id="a9" style="left:1031.43px;top:356.5px;transform:scaleX(1.0072);">Yes</span>
<span class="t c" id="d9" style="left:1130.05px;top:356.5px;transform:scaleX(1.1405);">No</span>
<div class="cb" style="left:149px;top:399px"></div>
<svg style="position:absolute;left:189.9px;top:412.8px" width="12" height="14" viewBox="0 0 12 14">
<path d="M4.300 9 C4.800 7.200 6 6.500 7.300 6.500 C8.600 6.500 9.400 7.200 9.400 9 Z" fill="#14304a"/>
<circle cx="7.300" cy="3.900" r="3.200" fill="#e6ebf0" stroke="#45607a" stroke-width="1.400"/>
<path d="M7.100 4.300 L8 2.800" stroke="#5d7488" stroke-width="0.700" fill="none"/>
<rect x="0" y="8.200" width="2.100" height="1.800" fill="#14304a"/><rect x="3.200" y="8.200" width="6.200" height="1.800" fill="#14304a"/>
<rect x="0" y="11.100" width="2.100" height="1.900" fill="#14304a"/><rect x="3.200" y="11.100" width="6.200" height="1.900" fill="#14304a"/>
</svg>
<span class="t lk" id="n10" style="left:210.36px;top:405.5px;transform:scaleX(1.0345);">Buyer Financials Manager1</span>
<span class="t c" id="r10_0" style="left:430.34px;top:405.5px;transform:scaleX(0.9926);">SCC.Buyer Financials</span>
<span class="t c" id="r10_1" style="left:431px;top:424.5px;transform:scaleX(1);">Manager</span>
<span class="t c" id="e10" style="left:581.32px;top:405.5px;transform:scaleX(1.0294);">HUB4</span>
<span class="t c" id="o10" style="left:731.32px;top:405.5px;transform:scaleX(1.0294);">HUB4</span>
<span class="t c" id="a10" style="left:1031.43px;top:405.5px;transform:scaleX(1.0072);">Yes</span>
<span class="t c" id="d10" style="left:1130.05px;top:405.5px;transform:scaleX(1.1405);">No</span>
</div>
<div class="abs" style="left:178px;top:208px;width:1px;height:420px;background:#1f1f1f"></div>
<div class="abs" style="left:179px;top:208px;width:1px;height:420px;background:#fff"></div>
<div class="abs" style="left:1604px;top:209px;width:17px;height:419px;background:#f1f1f1"></div>
<div class="abs" style="left:1606px;top:226px;width:13px;height:182px;background:#c1c1c1"></div>
<svg class="abs" style="left:1608px;top:215px" width="9" height="6" viewBox="0 0 9 6"><path d="M0.500 5.300 L4.500 1 L8.500 5.300 Z" fill="#a3a3a3"/></svg>
<svg class="abs" style="left:1608px;top:616px" width="9" height="6" viewBox="0 0 9 6"><path d="M0.800 0.800 L8.200 0.800 L4.500 5 Z" fill="#505050"/></svg>
<span class="t c" id="view" style="left:156.76px;top:653.5px;transform:scaleX(1.0313);">Viewing 1-22 of 22</span>
<div class="btn" style="left:1267px;width:89px;background:#03566c;border-color:#1883a0"></div>
<span class="t bt" id="b0" style="left:1273.01px;top:654.3px;transform:scaleX(0.9325);">Export to CSV</span>
<div class="btn" style="left:1360px;width:71px;background:#03566c;border-color:#1883a0"></div>
<span class="t bt" id="b1" style="left:1366.05px;top:654.3px;transform:scaleX(1.0221);">Download</span>
<div class="btn" style="left:1435px;width:55px;background:#03566c;border-color:#1883a0"></div>
<span class="t bt" id="b2" style="left:1440.58px;top:654.3px;transform:scaleX(1.0203);">Upload</span>
<div class="btn" style="left:1494px;width:66px;background:#03566c;border-color:#1883a0"></div>
<span class="t bt" id="b3" style="left:1499.45px;top:654.3px;transform:scaleX(0.9777);">New Role</span>
<div class="btn" style="left:1564px;width:68px;background:#84adb8;border-color:#a3d0dc"></div>
<span class="t bt" id="b4" style="left:1576.3px;top:654.3px;transform:scaleX(1.0197);">Update</span>
</body></html>
